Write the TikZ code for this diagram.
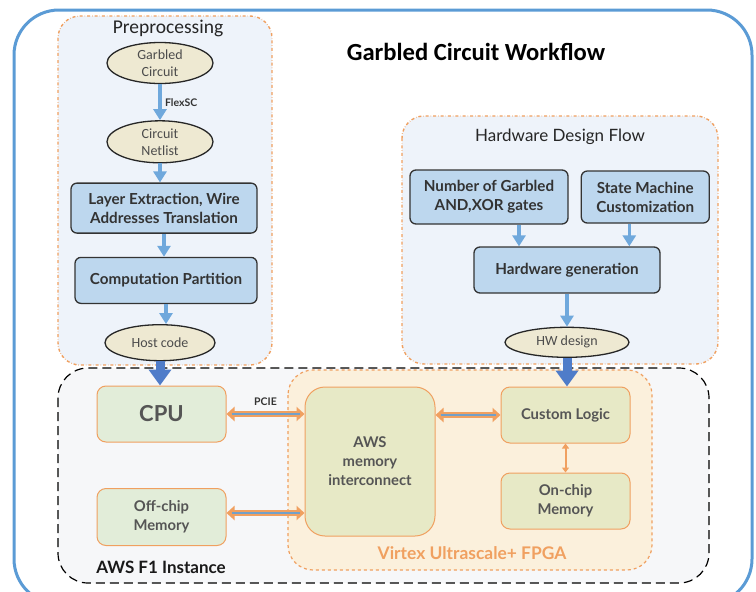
\documentclass[tikz,border=0pt]{standalone}
\usepackage{fontspec}
\setmainfont{Lato}
\newfontfamily\calfont{Carlito}
\usepackage{tikz}
\usetikzlibrary{positioning, arrows.meta, shapes}
\definecolor{frameblue}{HTML}{5B9BD5}
\definecolor{arrowblue}{HTML}{6FA8DC}
\definecolor{feedblue}{HTML}{4F7CC9}
\definecolor{stepfill}{HTML}{BDD7EE}
\definecolor{groupfill}{HTML}{EEF3FA}
\definecolor{datafill}{HTML}{EEE9D2}
\definecolor{awsorange}{HTML}{F0A060}
\definecolor{hostgreen}{HTML}{E2EDD9}
\definecolor{logicgreen}{HTML}{E7E9C6}
\definecolor{fpgafill}{HTML}{FBF0DC}
\definecolor{instfill}{HTML}{F6F7F9}
\definecolor{textgray}{HTML}{555555}
\tikzstyle{frame} = [draw=frameblue, line width=3pt, rounded corners=45pt]
\tikzstyle{group} = [draw=awsorange, dash dot, line width=1.4pt, fill=groupfill, rounded corners=22pt]
\tikzstyle{grouptitle} = [font=\fontsize{17}{20}\selectfont, text=black!85]
\tikzstyle{stepbox} = [rectangle, draw=black!80, line width=1.3pt, fill=stepfill,
    rounded corners=6pt, align=center, inner sep=0pt, text=black!80,
    font=\bfseries\fontsize{15.2}{19}\selectfont]
\tikzstyle{data} = [ellipse, draw=black!85, line width=1.3pt, fill=datafill, inner sep=0pt,
    align=center, text=black!70, font=\calfont\fontsize{14}{17}\selectfont]
\tikzstyle{hw} = [rectangle, draw=awsorange, line width=1pt, rounded corners=9pt, fill=hostgreen,
    align=center, inner sep=0pt, text=textgray, font=\bfseries\fontsize{14.8}{19}\selectfont]
\tikzstyle{line} = [draw=arrowblue, line width=3.5pt, -{Triangle[length=11pt, width=13pt]}]
\tikzstyle{feed} = [draw=feedblue, line width=9pt, -{Triangle[length=16pt, width=22pt]}]
\tikzstyle{bus} = [draw=awsorange, line width=6pt, {Triangle[length=8pt, width=14pt]}-{Triangle[length=8pt, width=14pt]},
    postaction={draw=arrowblue!80!gray, line width=2.5pt, -, shorten >=5pt, shorten <=5pt}]
\tikzstyle{thinbus} = [draw=awsorange, line width=2pt, {Triangle[length=5pt, width=7pt]}-{Triangle[length=5pt, width=7pt]}]
\tikzstyle{tag} = [font=\bfseries\fontsize{10.5}{12}\selectfont, text=black!80]

\begin{document}
\begin{tikzpicture}[x=1pt, y=-1pt, node distance=20pt, auto]
        \useasboundingbox (0,0) rectangle (756,592);
        % Outer frame
        \draw [frame] (14,10) rectangle (752,604);
        \node [font=\calfont\bfseries\fontsize{24.6}{28}\selectfont] (title) at (476,52) {Garbled Circuit Workflow};
        % Preprocessing
        \draw [group] (58,16) rectangle (272,365);
        \node [grouptitle, font=\calfont\fontsize{19.5}{22}\selectfont] (pretitle) at (168,28) {Preprocessing};
        \node [data, minimum width=106pt, minimum height=41pt] (garbled) at (160,63) {Garbled\\Circuit};
        \node [data, minimum width=106pt, minimum height=42pt, below=36pt of garbled] (netlist) {Circuit\\Netlist};
        \node [stepbox, minimum width=186pt, minimum height=50pt, below=19pt of netlist, xshift=4pt] (layers) {Layer Extraction, Wire\\Addresses Translation};
        \node [stepbox, minimum width=182pt, minimum height=46pt, below=23pt of layers, xshift=2pt] (partition) {Computation Partition};
        \node [data, minimum width=110pt, minimum height=36pt, below=20pt of partition, xshift=-6pt] (host) {Host code};
        \path [line] (garbled) -- node [tag, right] {FlexSC} (netlist);
        \path [line] (netlist) -- (netlist |- layers.north);
        \path [line] (layers) -- (layers |- partition.north);
        \path [line] (partition) -- (partition |- host.north);
        % Hardware design flow
        \draw [group] (402,116) rectangle (718,364);
        \node [grouptitle] (hwtitle) at (560,137) {Hardware Design Flow};
        \node [stepbox, minimum width=158pt, minimum height=54pt] (gates) at (489,197) {Number of Garbled\\AND,XOR gates};
        \node [stepbox, minimum width=128pt, minimum height=52pt, right=12pt of gates] (fsm) {State Machine\\Customization};
        \node [stepbox, minimum width=186pt, minimum height=46pt] (hwgen) at (567,270) {Hardware generation};
        \node [data, minimum width=124pt, minimum height=30pt, below=33pt of hwgen] (hwdesign) {HW design};
        \path [line] ([xshift=30pt]gates.south) -- ([xshift=30pt]gates.south |- hwgen.north);
        \path [line] ([xshift=-16pt]fsm.south) -- ([xshift=-16pt]fsm.south |- hwgen.north);
        \path [line] (hwgen) -- (hwgen |- hwdesign.north);
        % AWS F1 instance
        \draw [dashed, line width=1.2pt, fill=instfill, rounded corners=30pt, dash pattern=on 9pt off 5pt] (58,368) rectangle (709,583);
        \node [font=\bfseries\fontsize{17}{20}\selectfont, text=black!90] (awslabel) at (161,567) {AWS F1 Instance};
        \node [hw, minimum width=129pt, minimum height=56pt, font=\bfseries\fontsize{22}{26}\selectfont] (cpu) at (161.5,414) {CPU};
        \node [hw, minimum width=129pt, minimum height=57pt] (offchip) at (161.5,517) {Off-chip\\Memory};
        \draw [draw=awsorange, dashed, line width=1.2pt, fill=fpgafill, rounded corners=25pt] (288,370) rectangle (652,570);
        \node [font=\bfseries\fontsize{17.4}{20}\selectfont, text=awsorange] (fpgalabel) at (472,553) {Virtex Ultrascale+ FPGA};
        \node [hw, fill=logicgreen, rounded corners=20pt, minimum width=130pt, minimum height=149pt] (interconnect) at (370,461.5) {AWS\\memory\\interconnect};
        \node [hw, fill=logicgreen, minimum width=129pt, minimum height=56pt] (logic) at (565.5,415) {Custom Logic};
        \node [hw, fill=logicgreen, minimum width=129pt, minimum height=56pt] (onchip) at (565.5,501) {On-chip\\Memory};
        % Connections
        \path [bus] (cpu.east) -- node [tag, above=2pt] {PCIE} (cpu.east -| interconnect.west);
        \path [bus] ([yshift=4pt]offchip.east) -- ([yshift=4pt]offchip.east -| interconnect.west);
        \path [bus] (interconnect.east |- logic.west) -- (logic.west);
        \path [thinbus] (logic) -- (onchip);
        \path [feed] (host.south) -- (host.south |- cpu.north);
        \path [feed] (hwdesign.south) -- (hwdesign.south |- logic.north);
\end{tikzpicture}
\end{document}
